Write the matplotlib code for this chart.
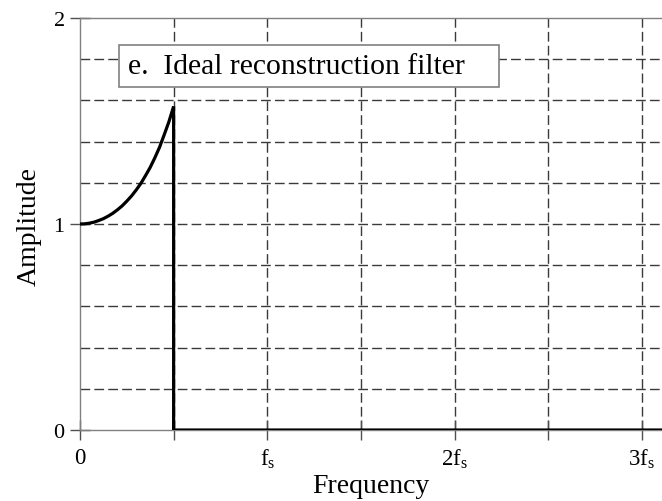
import matplotlib
matplotlib.use("Agg")
import matplotlib.pyplot as plt
from matplotlib.patches import Rectangle

# fonts: Times-like look
plt.rcParams["font.family"] = ["Liberation Serif", "DejaVu Serif"]
plt.rcParams["mathtext.fontset"] = "custom"
plt.rcParams["mathtext.rm"] = "Liberation Serif"
plt.rcParams["mathtext.it"] = "Liberation Serif:italic"

# curve (frequency in units of fs)
freq = [0.0, 0.025, 0.05, 0.075, 0.1, 0.125, 0.15, 0.175, 0.2, 0.225, 0.25,
        0.275, 0.3, 0.325, 0.35, 0.375, 0.4, 0.425, 0.45, 0.475, 0.5, 0.5, 3.2]
amplitude = [1.0, 1.001, 1.004, 1.009, 1.017, 1.026, 1.038, 1.052, 1.069, 1.088, 1.111,
             1.136, 1.165, 1.197, 1.235, 1.275, 1.322, 1.373, 1.434, 1.497, 1.571, 0.0, 0.0]

x_ticks = [0, 0.5, 1, 1.5, 2, 2.5, 3]
x_labels = ["0", "", r"f$_{\rm s}$", "", r"2f$_{\rm s}$", "", r"3f$_{\rm s}$"]
y_ticks = [0, 1, 2]
y_grid = [0.2, 0.4, 0.6, 0.8, 1.0, 1.2, 1.4, 1.6, 1.8]

title = "e.  Ideal reconstruction filter"

fig = plt.figure(figsize=(6.62, 5.02), dpi=100)
ax = fig.add_axes([0.1208, 0.1414, 0.9054, 0.8207])

ax.set_xlim(0, 3.2)
ax.set_ylim(0, 2)

grid_kw = dict(color="#3a3a3a", linewidth=1.0, linestyle=(0, (7, 3)), zorder=1)
for gy in y_grid:
    ax.axhline(gy, **grid_kw)
for gx in x_ticks[1:]:
    ax.axvline(gx, **grid_kw)

ax.plot(freq, amplitude, color="black", linewidth=2.3, zorder=3, solid_joinstyle="miter")

for side in ["left", "top", "bottom"]:
    ax.spines[side].set_color("#808080")
    ax.spines[side].set_linewidth(1.0)
ax.spines["right"].set_visible(False)

ax.set_xticks(x_ticks)
ax.set_xticklabels(x_labels)
ax.set_yticks(y_ticks)
ax.tick_params(axis="both", direction="inout", length=14, width=1.0, color="#505050")
ax.tick_params(axis="y", labelsize=16, pad=4)
ax.tick_params(axis="x", labelsize=16.5, pad=5)

ax.set_xlabel("Frequency", fontsize=20)
ax.xaxis.set_label_coords(0.486, -0.105)
ax.set_ylabel("Amplitude", fontsize=20)
ax.yaxis.set_label_coords(-0.0635, 0.4976)

# title box
ax.add_patch(Rectangle((0.208, 1.665), 2.029, 0.204, facecolor="white",
                       edgecolor="#808080", linewidth=1.2, zorder=4))
ax.text(0.255, 1.767, title, fontsize=21.3, va="center", ha="left", zorder=5)

fig.savefig("out.png", dpi=100)
